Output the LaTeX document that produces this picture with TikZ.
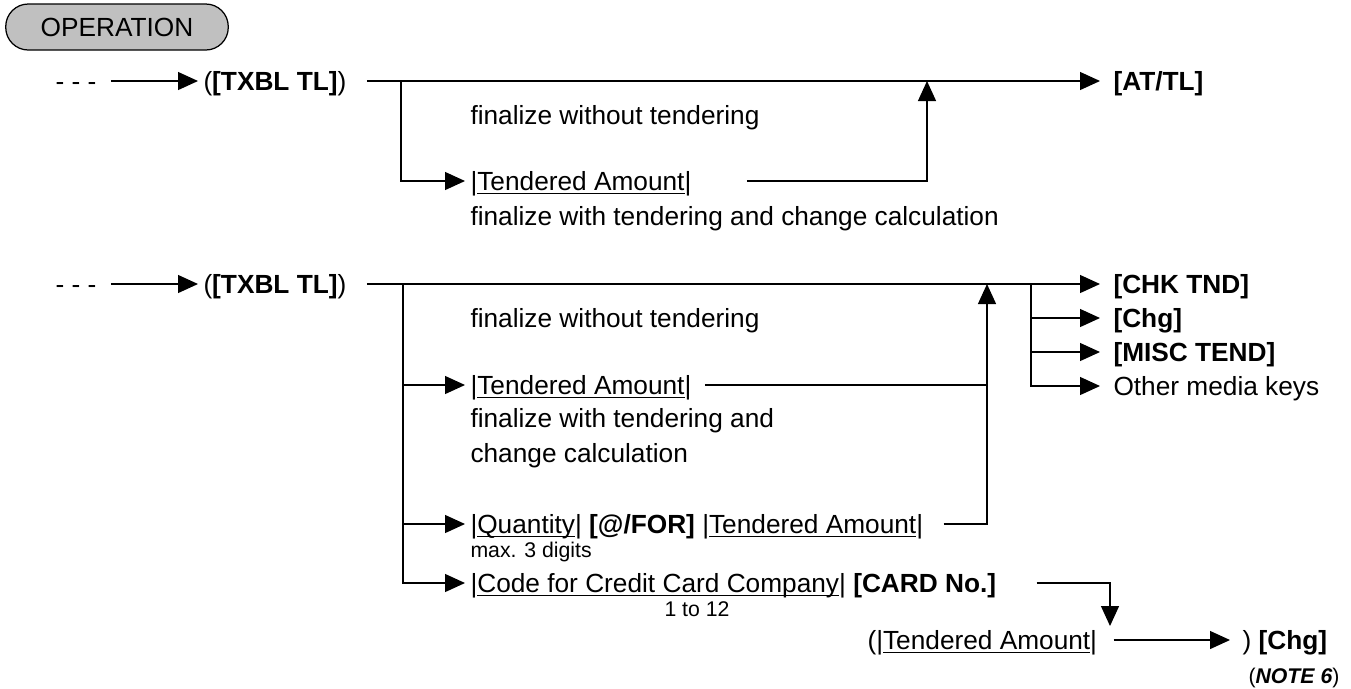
\documentclass[tikz,border=0pt]{standalone}
\usepackage{fontspec}
\setmainfont{Liberation Sans}
\usetikzlibrary{arrows.meta, positioning}
\definecolor{pillgray}{RGB}{192, 192, 192}
\newcommand{\keyin}[1]{|\setbox0=\hbox{#1}\rlap{\rule[-1.5pt]{\wd0}{0.5pt}}\box0|}
\tikzstyle{pill}  = [rectangle, rounded corners=9pt, minimum width=89pt, minimum height=18.4pt,
                     draw=black, fill=pillgray, line width=0.5pt]
\tikzstyle{txt}   = [inner sep=2pt, anchor=west, text height=7.6pt, text depth=0pt]
\tikzstyle{small} = [txt, text height=6.1pt, font=\fontsize{8.5}{10}\selectfont]
\tikzstyle{wire}  = [line width=0.5pt]
\tikzstyle{arrow} = [wire, -{Triangle[length=8pt, width=7.2pt]}]

\begin{document}
\begin{tikzpicture}[x=0.4pt, y=-0.4pt, every node/.style={font=\fontsize{10.5}{12.6}\selectfont}]
  \useasboundingbox (0,0) rectangle (1351,688);
  \node (op)     [pill] at (117,27) {OPERATION};

  % First sequence
  \node (dots1)  [txt] at (50,81)    {- - -};
  \node (txbl1)  [txt] at (198,81)   {(\textbf{[TXBL TL]})};
  \node (atl)    [txt] at (1108,81)  {\textbf{[AT/TL]}};
  \node (fwo1)   [txt] at (465,115)  {finalize without tendering};
  \node (ta1)    [txt] at (465,181)  {\keyin{Tendered Amount}};
  \node (fwc1)   [txt, below=2pt of ta1.south west, anchor=north west]
                 {finalize with tendering and change calculation};
  \coordinate (br1) at (401,81);
  \coordinate (up1) at (927,81);

  % Second sequence
  \node (dots2)  [txt] at (50,284)   {- - -};
  \node (txbl2)  [txt] at (198,284)  {(\textbf{[TXBL TL]})};
  \node (chk)    [txt] at (1108,284) {\textbf{[CHK TND]}};
  \node (chg)    [txt] at (1108,318) {\textbf{[Chg]}};
  \node (misc)   [txt] at (1108,352) {\textbf{[MISC TEND]}};
  \node (other)  [txt] at (1108,386) {Other media keys};
  \node (fwo2)   [txt] at (465,318)  {finalize without tendering};
  \node (ta2)    [txt] at (465,385)  {\keyin{Tendered Amount}};
  \node (fwc2a)  [txt] at (465,418)  {finalize with tendering and};
  \node (fwc2b)  [txt, below=2pt of fwc2a.south west, anchor=north west] {change calculation};
  \node (qty)    [txt] at (465,524)  {\keyin{Quantity} \textbf{[@/FOR]} \keyin{Tendered Amount}};
  \node (max)    [small] at (465,550) {max. 3 digits};
  \node (ccc)    [txt] at (465,583)  {\keyin{Code for Credit Card Company} \textbf{[CARD No.]}};
  \node (range)  [small, anchor=center] at (697,609) {1 to 12};
  \node (ta3)    [txt] at (862,640)  {(\keyin{Tendered Amount}};
  \node (chg2)   [txt] at (1237,640) {) \textbf{[Chg]}};
  \node (note)   [small] at (1243,676) {(\textbf{\textit{NOTE 6}})};
  \coordinate (br2)    at (403,284);
  \coordinate (up2)    at (987,284);
  \coordinate (br3)    at (1031,284);
  \coordinate (cardin) at (1110,626);

  \draw [arrow, shorten <=3.6pt] (dots1.east) -- (txbl1.west);
  \draw [arrow, shorten <=6pt, shorten >=3.2pt] (txbl1.east) -- (atl.west);
  \draw [arrow] (br1) |- (ta1.west);
  \draw [arrow, shorten <=20pt] (ta1.east) -| (up1);

  \draw [arrow, shorten <=3.6pt] (dots2.east) -- (txbl2.west);
  \draw [arrow, shorten <=6pt, shorten >=3.2pt] (txbl2.east) -- (chk.west);
  \foreach \k in {ta2, qty, ccc}
    \draw [arrow] (br2) |- (\k.west);
  \draw [wire, shorten <=3.2pt] (ta2.east) -- (ta2.east -| up2);
  \draw [arrow, shorten <=6pt] (qty.east) -| (up2);
  \foreach \k in {chg, misc, other}
    \draw [arrow, shorten >=3.2pt] (br3) |- (\k.west);
  \draw [arrow, shorten <=14pt] (ccc.east) -| (cardin);
  \draw [arrow, shorten <=4.4pt, shorten >=2.8pt] (ta3.east) -- (chg2.west);
\end{tikzpicture}
\end{document}
